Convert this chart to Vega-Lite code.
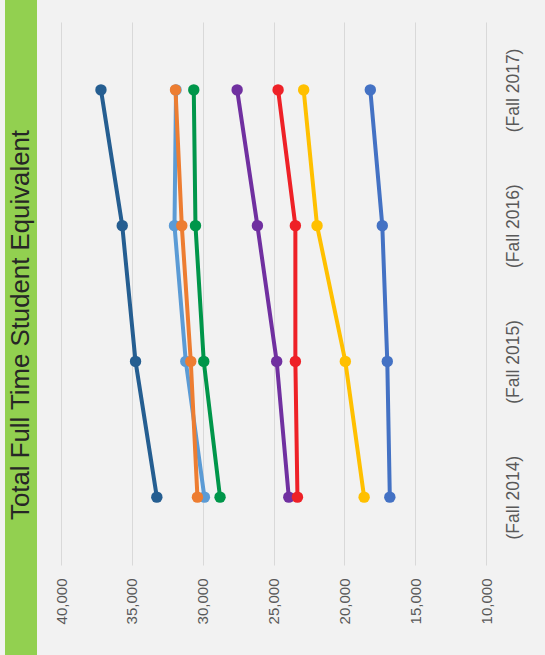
{
  "$schema": "https://vega.github.io/schema/vega-lite/v6.json",
  "background": "#F2F2F2",
  "padding": {"left": 5, "top": 0, "right": 23, "bottom": 0},
  "spacing": 0,
  "config": {"view": {"stroke": null}, "font": "Liberation Sans"},
  "vconcat": [
    {
      "width": 32,
      "height": 22,
      "view": {"fill": "#92D050", "stroke": null},
      "data": {"values": [{"t": ""}]},
      "mark": {"type": "text"},
      "encoding": {"text": {"field": "t"}}
    },
    {
      "spacing": 17,
      "hconcat": [
        {
          "width": 32,
          "height": 633,
          "view": {"fill": "#92D050", "stroke": null},
          "data": {"values": [{"label": "Total Full Time Student Equivalent"}]},
          "mark": {"type": "text", "angle": 270, "fontSize": 25.8, "font": "Liberation Sans", "color": "#262626", "align": "center", "baseline": "middle", "dx": 13.5},
          "encoding": {"text": {"field": "label"}}
        },
        {
          "width": 425,
          "height": 543,
          "data": {"values": [
            {"series": "S1", "term": "(Fall 2014)", "value": 33235},
            {"series": "S1", "term": "(Fall 2015)", "value": 34739},
            {"series": "S1", "term": "(Fall 2016)", "value": 35677},
            {"series": "S1", "term": "(Fall 2017)", "value": 37180},
            {"series": "S2", "term": "(Fall 2014)", "value": 29877},
            {"series": "S2", "term": "(Fall 2015)", "value": 31192},
            {"series": "S2", "term": "(Fall 2016)", "value": 31989},
            {"series": "S2", "term": "(Fall 2017)", "value": 31880},
            {"series": "S3", "term": "(Fall 2014)", "value": 30368},
            {"series": "S3", "term": "(Fall 2015)", "value": 30839},
            {"series": "S3", "term": "(Fall 2016)", "value": 31474},
            {"series": "S3", "term": "(Fall 2017)", "value": 31918},
            {"series": "S4", "term": "(Fall 2014)", "value": 28774},
            {"series": "S4", "term": "(Fall 2015)", "value": 29923},
            {"series": "S4", "term": "(Fall 2016)", "value": 30508},
            {"series": "S4", "term": "(Fall 2017)", "value": 30628},
            {"series": "S5", "term": "(Fall 2014)", "value": 23921},
            {"series": "S5", "term": "(Fall 2015)", "value": 24775},
            {"series": "S5", "term": "(Fall 2016)", "value": 26136},
            {"series": "S5", "term": "(Fall 2017)", "value": 27567},
            {"series": "S6", "term": "(Fall 2014)", "value": 23309},
            {"series": "S6", "term": "(Fall 2015)", "value": 23456},
            {"series": "S6", "term": "(Fall 2016)", "value": 23456},
            {"series": "S6", "term": "(Fall 2017)", "value": 24676},
            {"series": "S7", "term": "(Fall 2014)", "value": 18603},
            {"series": "S7", "term": "(Fall 2015)", "value": 19930},
            {"series": "S7", "term": "(Fall 2016)", "value": 21926},
            {"series": "S7", "term": "(Fall 2017)", "value": 22871},
            {"series": "S8", "term": "(Fall 2014)", "value": 16789},
            {"series": "S8", "term": "(Fall 2015)", "value": 16968},
            {"series": "S8", "term": "(Fall 2016)", "value": 17320},
            {"series": "S8", "term": "(Fall 2017)", "value": 18167}
          ]},
          "encoding": {
            "x": {
              "field": "value",
              "type": "quantitative",
              "scale": {"domain": [10000, 40000], "reverse": true, "nice": false, "zero": false},
              "axis": {
                "orient": "bottom",
                "title": null,
                "values": [10000, 15000, 20000, 25000, 30000, 35000, 40000],
                "format": ",.0f",
                "labelAngle": 270,
                "labelAlign": "right",
                "labelBaseline": "middle",
                "labelPadding": 13,
                "labelFontSize": 15,
                "labelColor": "#595959",
                "labelFont": "Liberation Sans",
                "labelOverlap": false,
                "labelFlush": false,
                "ticks": false,
                "tickSize": 0,
                "domain": false,
                "grid": true,
                "gridColor": "#D9D9D9",
                "gridWidth": 1
              }
            },
            "y": {
              "field": "term",
              "type": "ordinal",
              "sort": ["(Fall 2017)", "(Fall 2016)", "(Fall 2015)", "(Fall 2014)"],
              "scale": {"type": "point", "padding": 0.5},
              "axis": {
                "orient": "right",
                "title": null,
                "labelAngle": 270,
                "labelAlign": "center",
                "labelBaseline": "middle",
                "labelPadding": 27,
                "labelFontSize": 17.5,
                "labelColor": "#595959",
                "labelFont": "Liberation Sans",
                "labelOverlap": false,
                "ticks": false,
                "tickSize": 0,
                "domain": false,
                "grid": false
              }
            },
            "color": {
              "field": "series",
              "type": "nominal",
              "scale": {
                "domain": ["S1", "S2", "S3", "S4", "S5", "S6", "S7", "S8"],
                "range": ["#255E91", "#5B9BD5", "#ED7D31", "#00964A", "#7030A0", "#EE2127", "#FFC000", "#4472C4"]
              },
              "legend": null
            }
          },
          "layer": [
            {"mark": {"type": "line", "strokeWidth": 4}},
            {"mark": {"type": "circle", "size": 130, "opacity": 1}}
          ]
        }
      ]
    }
  ]
}
